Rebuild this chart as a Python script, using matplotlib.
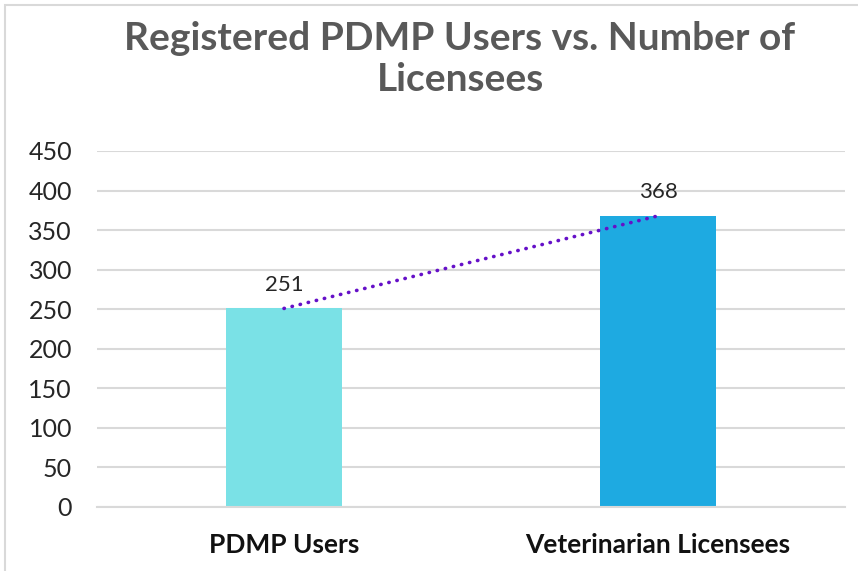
import numpy as np
import matplotlib.pyplot as plt
from matplotlib.patches import Rectangle

# data
categories = ['PDMP Users', 'Veterinarian Licensees']
values = [251, 368]
bar_colors = ['#7ae1e6', '#1eaae1']
y_ticks = [0, 50, 100, 150, 200, 250, 300, 350, 400, 450]

plt.rcParams['font.family'] = ['Lato', 'DejaVu Sans']

fig = plt.figure(figsize=(8.58, 5.71), dpi=100)
ax = fig.add_axes([97 / 858, 1 - 507 / 571, 748 / 858, (507 - 151) / 571])

# khung viền nhạt quanh biểu đồ
fig.patches.append(Rectangle((5 / 858, -0.1), 1.2, 1 - 5 / 571 + 0.1,
                             transform=fig.transFigure, fill=False,
                             edgecolor='#d9d9d9', linewidth=1.5))

x = np.arange(len(categories))
ax.bar(x, values, width=0.31, color=bar_colors, zorder=2)

# đường xu hướng tuyến tính (dotted)
coef = np.polyfit(x, values, 1)
ax.plot(x, np.polyval(coef, x), linestyle=(0, (0.1, 2.2)), color='#6510c8',
        linewidth=2.6, dash_capstyle='round', zorder=3)

for xi, v in zip(x, values):
    ax.text(xi, v + 17, str(v), ha='center', va='bottom', fontsize=16,
            color='#262626')

ax.set_xlim(-0.5, 1.5)
ax.set_ylim(0, 450)
ax.set_yticks(y_ticks)
ax.yaxis.grid(True, color='#d9d9d9', linewidth=1.5, zorder=0)
ax.set_axisbelow(True)
for s in ['top', 'right', 'left']:
    ax.spines[s].set_visible(False)
ax.spines['bottom'].set_color('#d9d9d9')
ax.spines['bottom'].set_linewidth(1.5)
ax.tick_params(axis='both', length=0)
ax.tick_params(axis='y', labelsize=18, labelcolor='#262626', pad=18)
ax.set_xticks(x)
ax.set_xticklabels(categories, fontsize=19, fontweight='bold', color='#111111')
ax.tick_params(axis='x', pad=19)

fig.text(460 / 858, 1 - 59 / 571, 'Registered PDMP Users vs. Number of\nLicensees',
         ha='center', va='center', fontsize=28, fontweight='bold',
         color='#595959', linespacing=1.2)

fig.savefig('out.png', dpi=100)
